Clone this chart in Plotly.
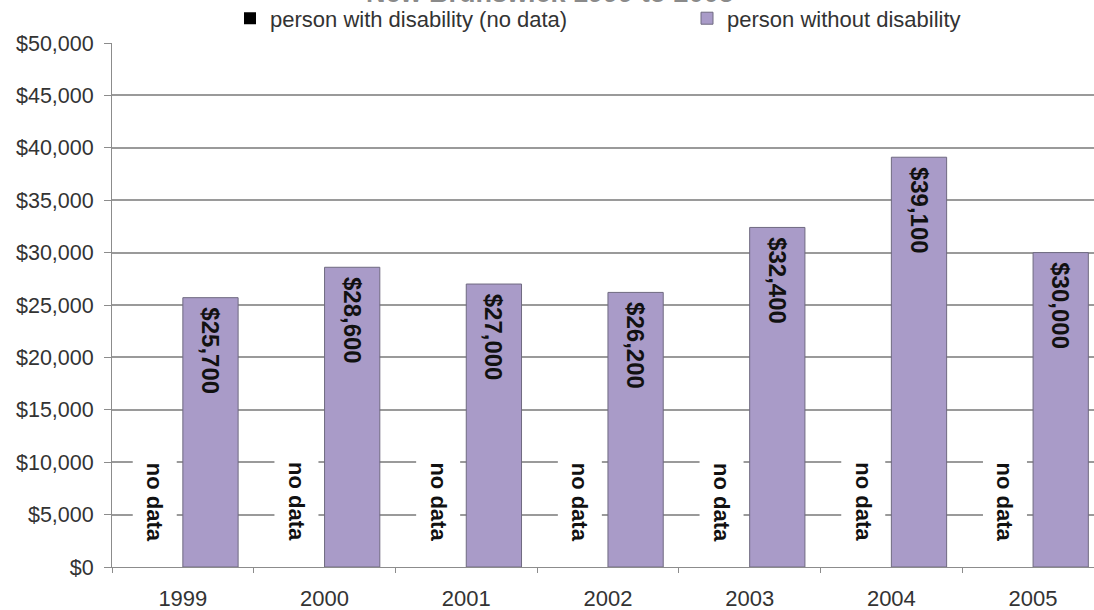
import plotly.graph_objects as go

years = ["1999", "2000", "2001", "2002", "2003", "2004", "2005"]
with_disability = [0, 0, 0, 0, 0, 0, 0]          # no data
without_disability = [25700, 28600, 27000, 26200, 32400, 39100, 30000]
no_data_label = "no data"
series_names = ["person with disability (no data)", "person without disability"]
title_text = "New Brunswick 1999 to 2005"

FONT = "Liberation Sans, Arial, sans-serif"
PURPLE = "#A99BC8"

fig = go.Figure()
fig.add_trace(go.Bar(
    x=years, y=with_disability, name=series_names[0],
    marker=dict(color="#000000", line=dict(width=0)),
    hoverinfo="skip", legend="legend",
))
fig.add_trace(go.Bar(
    x=years, y=without_disability, name=series_names[1],
    marker=dict(color=PURPLE, line=dict(color="#6f6a80", width=1)),
    text=["\u00a0${:,.0f}".format(v) for v in without_disability],
    textposition="inside", insidetextanchor="end", textangle=90,
    textfont=dict(family=FONT, size=24, color="#111111", weight="bold"),
    constraintext="none", legend="legend2",
))

annotations = []
for i, v in enumerate(with_disability):
    annotations.append(dict(
        x=i - 0.195, y=6200, xref="x", yref="y",
        text="<b>" + no_data_label + "</b>", textangle=90, showarrow=False,
        font=dict(family=FONT, size=22, color="#111111"),
        bgcolor="white", borderpad=9,
    ))
annotations.append(dict(
    x=0.446, y=1.0625, xref="paper", yref="paper", xanchor="center", yanchor="bottom",
    text="<b>" + title_text + "</b>", showarrow=False,
    font=dict(family=FONT, size=27, color="#8a8a8a"),
))

legend_common = dict(
    orientation="h", xanchor="left", yanchor="top", y=1.087,
    font=dict(family=FONT, size=22, color="#333333"),
    bgcolor="rgba(0,0,0,0)", itemclick=False, itemdoubleclick=False,
)

fig.update_layout(
    width=1094, height=610,
    margin=dict(l=112, r=0, t=43, b=43, autoexpand=False),
    paper_bgcolor="white", plot_bgcolor="white",
    barmode="group", bargap=0.22, bargroupgap=0,
    font=dict(family=FONT, size=22, color="#333333"),
    showlegend=True,
    legend=dict(legend_common, x=(230 - 112) / 982),
    legend2=dict(legend_common, x=(687 - 112) / 982),
    annotations=annotations,
)
fig.update_xaxes(
    type="category", range=[-0.5, 6.43], automargin=False,
    showline=True, linecolor="#8c8c8c", linewidth=1,
    ticks="outside", tickson="boundaries", ticklen=5, tickcolor="#8c8c8c",
    showgrid=False, tickfont=dict(family=FONT, size=22, color="#333333"),
    ticklabelstandoff=12,
)
fig.update_yaxes(
    range=[0, 50000], dtick=5000, tickformat="$,.0f", automargin=False,
    showline=True, linecolor="#8c8c8c", linewidth=1,
    ticks="outside", ticklen=7, tickcolor="#8c8c8c",
    showgrid=True, gridcolor="#9a9a9a", gridwidth=1.5,
    zeroline=False, ticklabelstandoff=6,
    tickfont=dict(family=FONT, size=21.5, color="#333333"),
)

# remove the default page margin so the figure sits at the window's top-left corner
fig.write_html(
    "out.html",
    config={"displayModeBar": False},
    post_script="document.body.style.margin='0px';",
)
